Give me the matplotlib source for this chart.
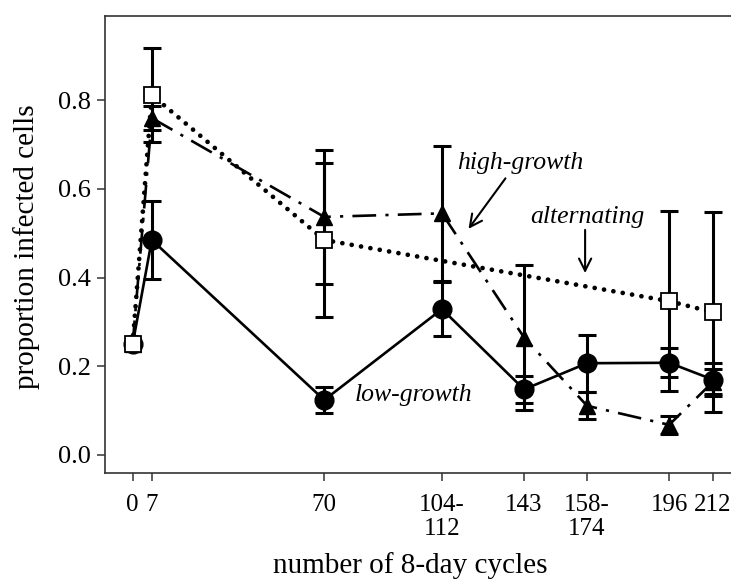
import matplotlib
matplotlib.use("Agg")
import matplotlib.pyplot as plt

plt.rcParams["font.family"] = ["Liberation Serif", "DejaVu Serif"]
plt.rcParams["font.size"] = 18.5

# Data (sampling points on the x axis)
cycles = [0, 7, 70, 113, 143, 166, 196, 212]
cycle_labels = ["0", "7", "70", "104-\n112", "143", "158-\n174", "196", "212"]

low_growth = [0.25, 0.485, 0.124, 0.329, 0.148, 0.207, 0.208, 0.170]
low_se = [0.0, 0.088, 0.030, 0.061, 0.030, 0.064, 0.033, 0.037]

high_growth = [0.25, 0.760, 0.537, 0.545, 0.265, 0.111, 0.068, 0.165]
high_se = [0.0, 0.027, 0.152, 0.152, 0.163, 0.030, 0.020, 0.028]

alt_cycles = [0, 7, 70, 196, 212]
alternating = [0.25, 0.812, 0.485, 0.347, 0.322]
alt_se = [0.0, 0.105, 0.173, 0.203, 0.225]

fig = plt.figure(figsize=(7.31, 5.81), dpi=100)
ax = fig.add_axes([105 / 731, 108 / 581, 626 / 731, 457.3 / 581])

err_kw = dict(fmt="none", ecolor="black", elinewidth=2.2, capsize=6.5, capthick=2.2, zorder=2)

# error bars (skip the starting point, it has none)
ax.errorbar(cycles[1:], low_growth[1:], yerr=low_se[1:], **err_kw)
ax.errorbar(cycles[1:], high_growth[1:], yerr=high_se[1:], **err_kw)
ax.errorbar(alt_cycles[1:], alternating[1:], yerr=alt_se[1:], **err_kw)

# low-growth: solid line, filled circles
ax.plot(cycles, low_growth, color="black", lw=1.9, marker="o", ms=13.5,
        mfc="black", mec="black", zorder=3)

# high-growth: dash-dot line, filled triangles
ax.plot(cycles, high_growth, color="black", lw=1.9, linestyle=(0, (9, 3.5, 1.2, 3.5)),
        marker="^", ms=12, mfc="black", mec="black", zorder=4)

# alternating: dotted line, open squares
ax.plot(alt_cycles, alternating, color="black", lw=3.4, linestyle=(0, (0.01, 2.0)),
        dash_capstyle="round", marker="s", ms=11.5, mfc="white", mec="black",
        mew=1.3, zorder=5)

# labels on the curves
ax.text(102.5, 0.135, "low-growth", style="italic", ha="center", va="center")
ax.text(141.5, 0.659, "high-growth", style="italic", ha="center", va="center")
ax.text(166, 0.537, "alternating", style="italic", ha="center", va="center")

arrow = dict(arrowstyle="->", lw=1.5, color="black", mutation_scale=22)
ax.annotate("", xy=(122.1, 0.505), xytext=(136.8, 0.629), arrowprops=arrow)
ax.annotate("", xy=(165.3, 0.404), xytext=(165.3, 0.514), arrowprops=arrow)

ax.set_xlim(-10.1, 218.6)
ax.set_ylim(-0.0406, 0.9908)

ax.set_xticks(cycles)
ax.set_xticklabels(cycle_labels, linespacing=1.12, fontsize=18)
ax.set_yticks([0.0, 0.2, 0.4, 0.6, 0.8])
ax.set_yticklabels(["0.0", "0.2", "0.4", "0.6", "0.8"], fontsize=19)

ax.tick_params(direction="out", length=6, width=1.1, color="#333333")
ax.tick_params(axis="x", pad=9)
ax.tick_params(axis="y", pad=4)

for side in ["left", "bottom", "top"]:
    ax.spines[side].set_linewidth(1.2)
    ax.spines[side].set_color("#333333")
ax.spines["right"].set_visible(False)

ax.set_xlabel("number of 8-day cycles", fontsize=21, va="center")
ax.set_ylabel("proportion infected cells", fontsize=21, va="center")
ax.xaxis.set_label_coords((410 - 105) / 626, (473 - 566) / 457.3)
ax.yaxis.set_label_coords((27 - 105) / 626, (473 - 247) / 457.3)

fig.savefig("out.png", dpi=100)
